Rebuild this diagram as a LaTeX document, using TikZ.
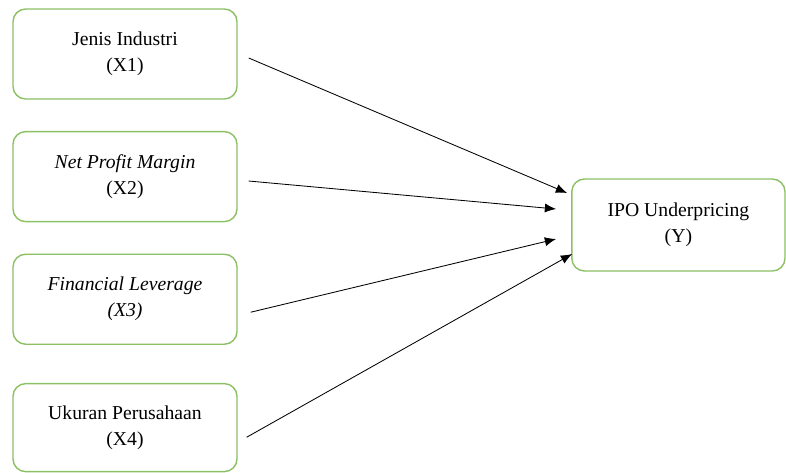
\documentclass[tikz,border=0pt]{standalone}
\usepackage{fontspec}
\setmainfont{Liberation Serif}
\usetikzlibrary{arrows.meta, positioning, calc}
\definecolor{boxgreen}{RGB}{140,192,100}
\tikzset{
  var/.style = {draw=boxgreen, line width=1pt, rectangle, rounded corners=9pt,
                align=center, fill=white,
                font=\fontsize{14}{18.5}\selectfont,
                minimum height=2.25cm, minimum width=5.6cm},
  arr/.style = {-{Latex[length=8pt, width=6.5pt]}, line width=0.6pt}
}

\begin{document}
\begin{tikzpicture}
  \useasboundingbox (0,0) rectangle (19.65,-11.8);

  % ── Independent variables ────────────────────────────────────────────────
  \node[var] (X1) at (3.125,-1.35) {Jenis Industri\\(X1)};
  \node[var, below=0.78cm of X1] (X2) {\textit{Net Profit Margin}\\(X2)};
  \node[var, below=0.78cm of X2] (X3) {\textit{Financial Leverage}\\\textit{(X3)}};
  \node[var, below=0.95cm of X3, minimum height=2.2cm] (X4) {Ukuran Perusahaan\\(X4)};

  % ── Dependent variable ───────────────────────────────────────────────────
  \node[var, minimum width=5.33cm, minimum height=2.3cm] (Y) at (16.96,-5.625)
       {IPO Underpricing\\(Y)};

  % ── Arrow ends ───────────────────────────────────────────────────────────
  \coordinate (Y1) at ($(Y.west)+(-0.1,0.8)$);
  \coordinate (Y2) at ($(Y.west)+(-0.375,0.4)$);
  \coordinate (Y3) at ($(Y.west)+(-0.375,-0.35)$);
  \coordinate (Y4) at ($(Y.west)+(0.025,-0.725)$);

  % ── Connections ──────────────────────────────────────────────────────────
  \draw[arr] ($(X1.east)+(0.275,-0.1)$)   -- (Y1);
  \draw[arr] ($(X2.east)+(0.275,-0.11)$)  -- (Y2);
  \draw[arr] ($(X3.east)+(0.325,-0.325)$) -- (Y3);
  \draw[arr] ($(X4.east)+(0.225,-0.24)$)  -- (Y4);

\end{tikzpicture}
\end{document}
